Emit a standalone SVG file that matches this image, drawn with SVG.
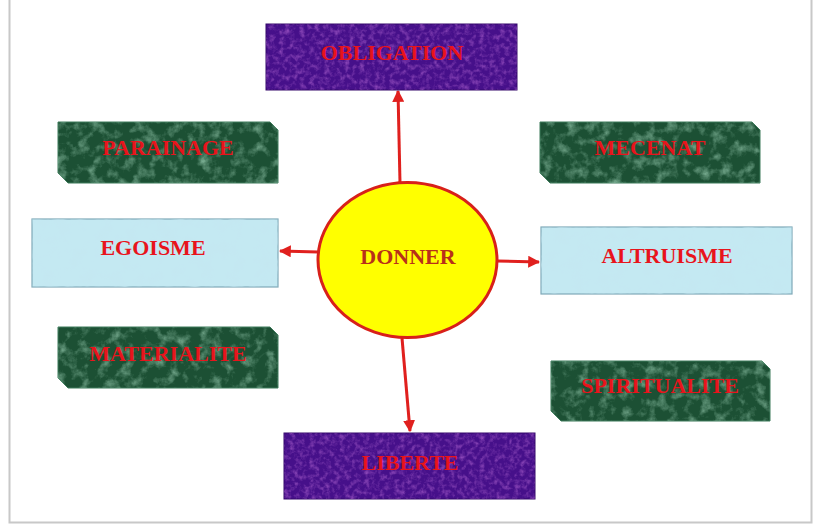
<svg xmlns="http://www.w3.org/2000/svg" width="819" height="526" viewBox="0 0 819 526">
<style>
.lbl{font-family:"Liberation Serif","Times New Roman",serif;font-weight:bold;font-size:22px;fill:#e8141c;text-anchor:middle;dominant-baseline:central}
.conn{stroke:#e0201e;stroke-width:3;fill:none;marker-end:url(#ah)}
.purple{fill:#46108a;stroke:#34086a;stroke-width:1}
.green{fill:#1c5034;stroke:#3d7a5a;stroke-width:1}
.blue{fill:#c4e9f2;stroke:#7fa9b8;stroke-width:1.2}
</style>
<defs>
<marker id="ah" viewBox="0 0 10 10" refX="9" refY="5" markerWidth="4" markerHeight="4" orient="auto" markerUnits="strokeWidth">
<path d="M0,0 L10,5 L0,10 Z" fill="#e0201e"/>
</marker>
<filter id="tPurple" x="0" y="0" width="100%" height="100%">
<feTurbulence type="fractalNoise" baseFrequency="0.2" numOctaves="3" seed="4" result="t"/>
<feColorMatrix in="t" type="matrix" values="0 0 0 0 0.42 0 0 0 0 0.12 0 0 0 0 0.62 0 0 0 1.4 -0.6" result="c"/>
<feComposite in="c" in2="SourceGraphic" operator="in"/>
</filter>
<filter id="tGreen" x="0" y="0" width="100%" height="100%">
<feTurbulence type="fractalNoise" baseFrequency="0.09" numOctaves="4" seed="7" result="t"/>
<feColorMatrix in="t" type="matrix" values="0 0 0 0 0.3 0 0 0 0 0.58 0 0 0 0 0.42 0 0 0 1.6 -0.75" result="c"/>
<feComposite in="c" in2="SourceGraphic" operator="in"/>
</filter>
<filter id="tBlue" x="0" y="0" width="100%" height="100%">
<feTurbulence type="fractalNoise" baseFrequency="0.07" numOctaves="3" seed="11" result="t"/>
<feColorMatrix in="t" type="matrix" values="0 0 0 0 0.55 0 0 0 0 0.8 0 0 0 0 0.88 0 0 0 1.8 -0.75" result="c"/>
<feComposite in="c" in2="SourceGraphic" operator="in"/>
</filter>
</defs>
<rect width="819" height="526" fill="#ffffff"/>
<path d="M9.5,0 V522.5 H811.5 V0" fill="none" stroke="#c8c8c8" stroke-width="2"/>

<g id="connectors">
<line class="conn" x1="400" y1="183" x2="398" y2="91"/>
<line class="conn" x1="318" y1="252" x2="280" y2="251"/>
<line class="conn" x1="497" y1="261" x2="539" y2="262"/>
<line class="conn" x1="402" y1="338" x2="410" y2="431"/>
</g>

<g id="obligation">
<rect class="purple" x="266" y="24" width="251" height="66"/>
<rect x="266" y="24" width="251" height="66" fill="#000" filter="url(#tPurple)"/>
<text class="lbl" x="392" y="52">OBLIGATION</text>
</g>

<g id="parainage">
<path class="green" d="M58,122 H270 L278,130 V183 H68 L58,173 Z"/>
<path d="M58,122 H270 L278,130 V183 H68 L58,173 Z" fill="#000" filter="url(#tGreen)"/>
<text class="lbl" x="168" y="147">PARAINAGE</text>
</g>

<g id="mecenat">
<path class="green" d="M540,122 H752 L760,130 V183 H550 L540,173 Z"/>
<path d="M540,122 H752 L760,130 V183 H550 L540,173 Z" fill="#000" filter="url(#tGreen)"/>
<text class="lbl" x="650" y="147">MECENAT</text>
</g>

<g id="egoisme">
<rect class="blue" x="32" y="219" width="246" height="68"/>
<rect x="32" y="219" width="246" height="68" fill="#000" filter="url(#tBlue)"/>
<text class="lbl" x="153" y="247">EGOISME</text>
</g>

<g id="donner">
<ellipse cx="407.5" cy="260" rx="89.5" ry="77.5" fill="#ffff00" stroke="#d8201a" stroke-width="3"/>
<text class="lbl" x="408" y="256" style="fill:#b8301a">DONNER</text>
</g>

<g id="altruisme">
<rect class="blue" x="541" y="227" width="251" height="67"/>
<rect x="541" y="227" width="251" height="67" fill="#000" filter="url(#tBlue)"/>
<text class="lbl" x="667" y="255">ALTRUISME</text>
</g>

<g id="materialite">
<path class="green" d="M58,327 H270 L278,335 V388 H68 L58,378 Z"/>
<path d="M58,327 H270 L278,335 V388 H68 L58,378 Z" fill="#000" filter="url(#tGreen)"/>
<text class="lbl" x="168" y="353">MATERIALITE</text>
</g>

<g id="spiritualite">
<path class="green" d="M551,361 H762 L770,369 V421 H561 L551,411 Z"/>
<path d="M551,361 H762 L770,369 V421 H561 L551,411 Z" fill="#000" filter="url(#tGreen)"/>
<text class="lbl" x="660" y="385">SPIRITUALITE</text>
</g>

<g id="liberte">
<rect class="purple" x="284" y="433" width="251" height="66"/>
<rect x="284" y="433" width="251" height="66" fill="#000" filter="url(#tPurple)"/>
<text class="lbl" x="410" y="462">LIBERTE</text>
</g>
</svg>
